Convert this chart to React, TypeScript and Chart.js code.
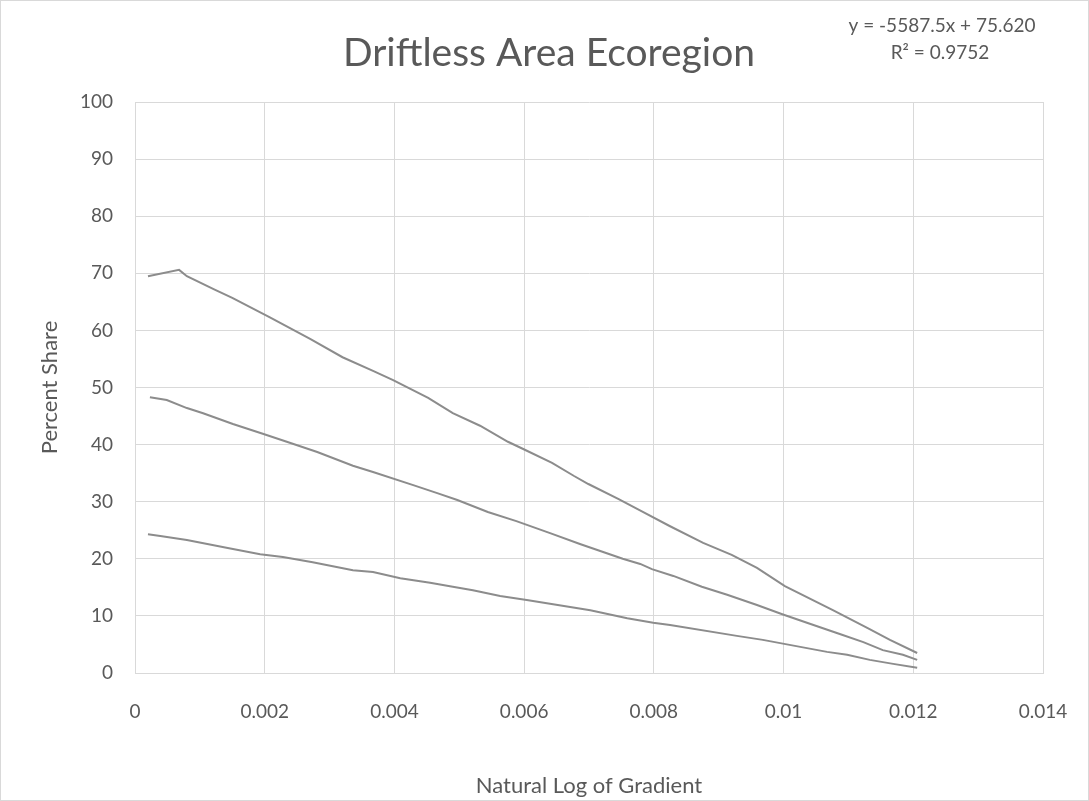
import React, { useEffect, useRef } from "react";
import { Chart, registerables } from "chart.js";

Chart.register(...registerables);

const TITLE = "Driftless Area Ecoregion";
const X_TITLE = "Natural Log of Gradient";
const Y_TITLE = "Percent Share";
const EQUATION = "y = -5587.5x + 75.620";
const R_SQUARED = "R² = 0.9752";

const X_MIN = 0;
const X_MAX = 0.014;
const X_STEP = 0.002;
const Y_MIN = 0;
const Y_MAX = 100;
const Y_STEP = 10;

const upperX = [0.0002, 0.00068, 0.0008, 0.00122, 0.0015, 0.00208, 0.0027, 0.0032, 0.00367, 0.00398, 0.00452, 0.0049, 0.00532, 0.00575, 0.00601, 0.00643, 0.00677, 0.00699, 0.00745, 0.00783, 0.00825, 0.00876, 0.0092, 0.00959, 0.01002, 0.01076, 0.01129, 0.01164, 0.01206];
const upperY = [69.5, 70.6, 69.5, 67.2, 65.7, 62.3, 58.5, 55.3, 52.9, 51.3, 48.2, 45.5, 43.3, 40.5, 39.1, 36.8, 34.5, 33.1, 30.5, 28.2, 25.7, 22.8, 20.7, 18.4, 15.2, 11.0, 7.9, 5.8, 3.5];

const middleX = [0.00023, 0.00049, 0.0008, 0.00105, 0.00151, 0.00197, 0.00234, 0.00281, 0.00336, 0.00367, 0.00429, 0.00466, 0.00497, 0.00544, 0.00588, 0.0064, 0.00686, 0.00714, 0.00752, 0.00779, 0.00797, 0.0083, 0.00874, 0.00913, 0.00959, 0.00998, 0.01036, 0.0109, 0.01123, 0.01153, 0.01184, 0.01206];
const middleY = [48.3, 47.8, 46.4, 45.5, 43.6, 41.9, 40.5, 38.7, 36.3, 35.2, 32.9, 31.5, 30.3, 28.2, 26.6, 24.5, 22.6, 21.5, 20.0, 19.1, 18.2, 17.0, 15.1, 13.7, 11.9, 10.3, 8.8, 6.7, 5.4, 4.0, 3.2, 2.3];

const lowerX = [0.0002, 0.00039, 0.0008, 0.00143, 0.00193, 0.00228, 0.00274, 0.00305, 0.00336, 0.00367, 0.00409, 0.00455, 0.0049, 0.00521, 0.00563, 0.00604, 0.00702, 0.00759, 0.00799, 0.00825, 0.00928, 0.00968, 0.01067, 0.01098, 0.01133, 0.01169, 0.01206];
const lowerY = [24.3, 24.0, 23.3, 21.9, 20.8, 20.3, 19.4, 18.7, 18.0, 17.7, 16.6, 15.8, 15.1, 14.5, 13.5, 12.8, 11.0, 9.6, 8.8, 8.4, 6.5, 5.8, 3.7, 3.2, 2.3, 1.6, 0.9];

const FONT = "Lato, 'Open Sans', sans-serif";
const TEXT_COLOR = "#595959";
const GRID_COLOR = "#d9d9d9";
const LINE_COLOR = "#8c8c8c";

const toPoints = (xs: number[], ys: number[]) => xs.map((x, i) => ({ x, y: ys[i] }));

const decorPlugin = {
  id: "decor",
  beforeDraw(chart: any) {
    const { ctx, width, height } = chart;
    ctx.save();
    ctx.fillStyle = "#ffffff";
    ctx.fillRect(0, 0, width, height);
    ctx.strokeStyle = GRID_COLOR;
    ctx.lineWidth = 1;
    ctx.strokeRect(0.5, 0.5, width - 1, height - 1);
    ctx.restore();
  },
  afterDraw(chart: any) {
    const { ctx } = chart;
    ctx.save();
    ctx.fillStyle = TEXT_COLOR;
    ctx.textAlign = "center";
    ctx.textBaseline = "alphabetic";
    ctx.font = `39px ${FONT}`;
    ctx.fillText(TITLE, 549, 66);
    ctx.font = `19px ${FONT}`;
    ctx.fillText(EQUATION, 942, 32);
    ctx.fillText(R_SQUARED, 940, 59);
    ctx.restore();
  },
};

export default function App() {
  const canvasRef = useRef<HTMLCanvasElement | null>(null);

  useEffect(() => {
    document.body.style.margin = "0";
    const canvas = canvasRef.current;
    if (!canvas) return;
    const chart = new Chart(canvas, {
      type: "scatter",
      data: {
        datasets: [
          { label: "Upper", data: toPoints(upperX, upperY) },
          { label: "Middle", data: toPoints(middleX, middleY) },
          { label: "Lower", data: toPoints(lowerX, lowerY) },
        ].map((d) => ({
          ...d,
          showLine: true,
          borderColor: LINE_COLOR,
          backgroundColor: LINE_COLOR,
          borderWidth: 2,
          pointRadius: 0,
          tension: 0,
        })),
      },
      options: {
        responsive: false,
        animation: false,
        layout: { padding: { top: 102, right: 46, left: 33, bottom: 0 } },
        plugins: {
          legend: { display: false },
          title: { display: false },
          tooltip: { enabled: false },
        },
        scales: {
          x: {
            type: "linear",
            min: X_MIN,
            max: X_MAX,
            ticks: {
              stepSize: X_STEP,
              padding: 27,
              color: TEXT_COLOR,
              font: { family: FONT, size: 19 },
              maxRotation: 0,
              callback: (v: any) => String(Number(Number(v).toFixed(3))),
            },
            grid: { color: GRID_COLOR, drawTicks: false },
            border: { color: GRID_COLOR },
            title: {
              display: true,
              text: X_TITLE,
              color: TEXT_COLOR,
              font: { family: FONT, size: 22 },
              padding: { top: 0, bottom: 2 },
            },
            afterFit: (scale: any) => {
              scale.height = 128;
              scale.paddingLeft = 0;
              scale.paddingRight = 0;
            },
          },
          y: {
            type: "linear",
            min: Y_MIN,
            max: Y_MAX,
            ticks: {
              stepSize: Y_STEP,
              padding: 22,
              color: TEXT_COLOR,
              font: { family: FONT, size: 19 },
            },
            grid: { color: GRID_COLOR, drawTicks: false },
            border: { color: GRID_COLOR },
            title: {
              display: true,
              text: Y_TITLE,
              color: TEXT_COLOR,
              font: { family: FONT, size: 22 },
              padding: { top: 4, bottom: 0 },
            },
            afterFit: (scale: any) => {
              scale.width = 102;
              scale.paddingTop = 0;
              scale.paddingBottom = 0;
            },
          },
        },
      },
      plugins: [decorPlugin],
    } as any);
    return () => chart.destroy();
  }, []);

  return (
    <div style={{ position: "absolute", left: 0, top: 0, width: 1089, height: 801 }}>
      <canvas ref={canvasRef} width={1089} height={801} />
    </div>
  );
}
